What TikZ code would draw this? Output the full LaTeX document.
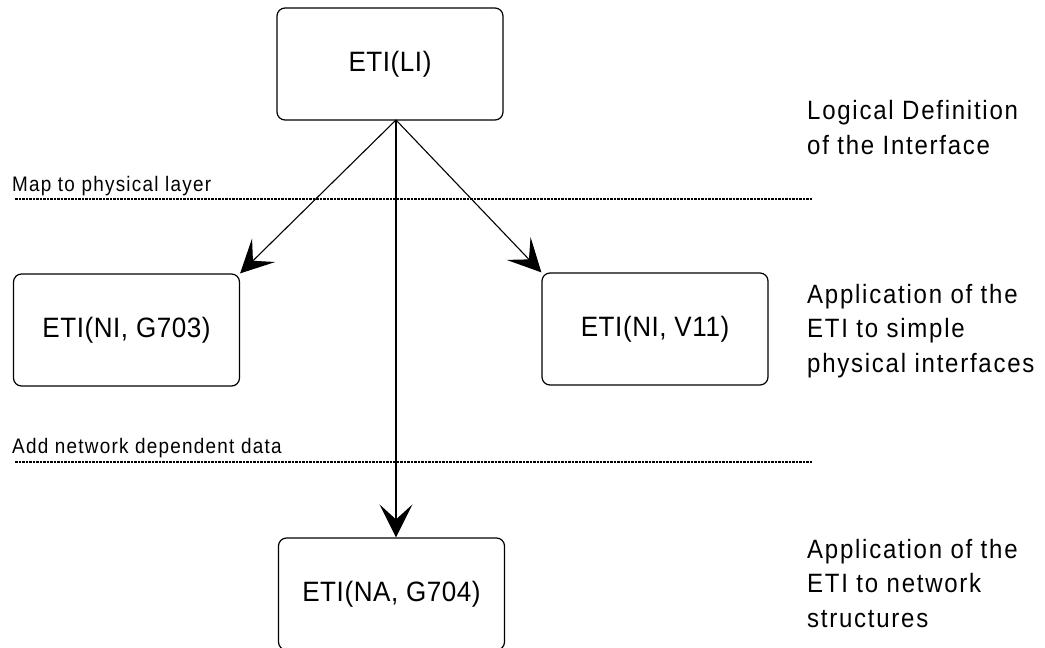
\documentclass[tikz,border=0pt]{standalone}
\usepackage{fontspec}
\setmainfont{Liberation Sans}
\newfontfamily\boxfamily{Liberation Sans}[FakeStretch=0.93,LetterSpace=2]
\newfontfamily\sidefamily{Liberation Sans}[FakeStretch=0.906,LetterSpace=6.6]
\newfontfamily\labelfamily{Liberation Sans}[FakeStretch=0.9,LetterSpace=6]
\usetikzlibrary{arrows.meta}
\tikzset{
  etibox/.style={draw, line width=1.2pt, rounded corners=8pt, minimum width=226pt, minimum height=112pt, inner sep=0pt,
    font=\boxfamily\fontsize{28}{30}\selectfont},
  sidetext/.style={anchor=base west, inner sep=0pt, align=left, font=\sidefamily\fontsize{26.5}{34.5}\selectfont},
  laytext/.style={anchor=base west, inner sep=0pt, font=\labelfamily\fontsize{21}{24}\selectfont},
  layline/.style={line width=1.4pt, dash pattern=on 2.5pt off 1pt},
  conn/.style={line width=1.1pt, -{Stealth[length=33pt, width=33pt, inset=15pt]}},
}
\begin{document}
\begin{tikzpicture}[x=1pt, y=-1pt]
\useasboundingbox (0,0) rectangle (1045,648);
\begin{scope}
\clip (0,0) rectangle (1045,648);
\node[etibox] (li) at (390,64) {ETI(LI)};
\node[etibox] (g703) at (126.5,330) {ETI(NI, G703)};
\node[etibox] (v11) at (655,329) {ETI(NI, V11)};
\node[etibox] (g704) at (391.5,594) {ETI(NA, G704)};
\end{scope}
\coordinate (src) at (396,120);
\draw[conn] (src) -- (g703.north east);
\draw[conn] (src) -- (v11.north west);
\draw[conn] (src) -- (src |- g704.north);
\coordinate (l1a) at (15,199);
\coordinate (l1b) at (812,199);
\coordinate (l2a) at (15,462);
\coordinate (l2b) at (812,462);
\draw[layline] (l1a) -- (l1b);
\draw[layline] (l2a) -- (l2b);
\node[laytext] (map) at (12,191) {Map to physical layer};
\node[laytext] (add) at (12,453) {Add network dependent data};
\node[sidetext] (s1) at (807,154) {Logical Definition\\of the Interface};
\node[sidetext] (s2) at (807,372) {Application of the\\ETI to simple\\physical interfaces};
\node[sidetext] (s3) at (807,627) {Application of the\\ETI to network\\structures};
\end{tikzpicture}
\end{document}
